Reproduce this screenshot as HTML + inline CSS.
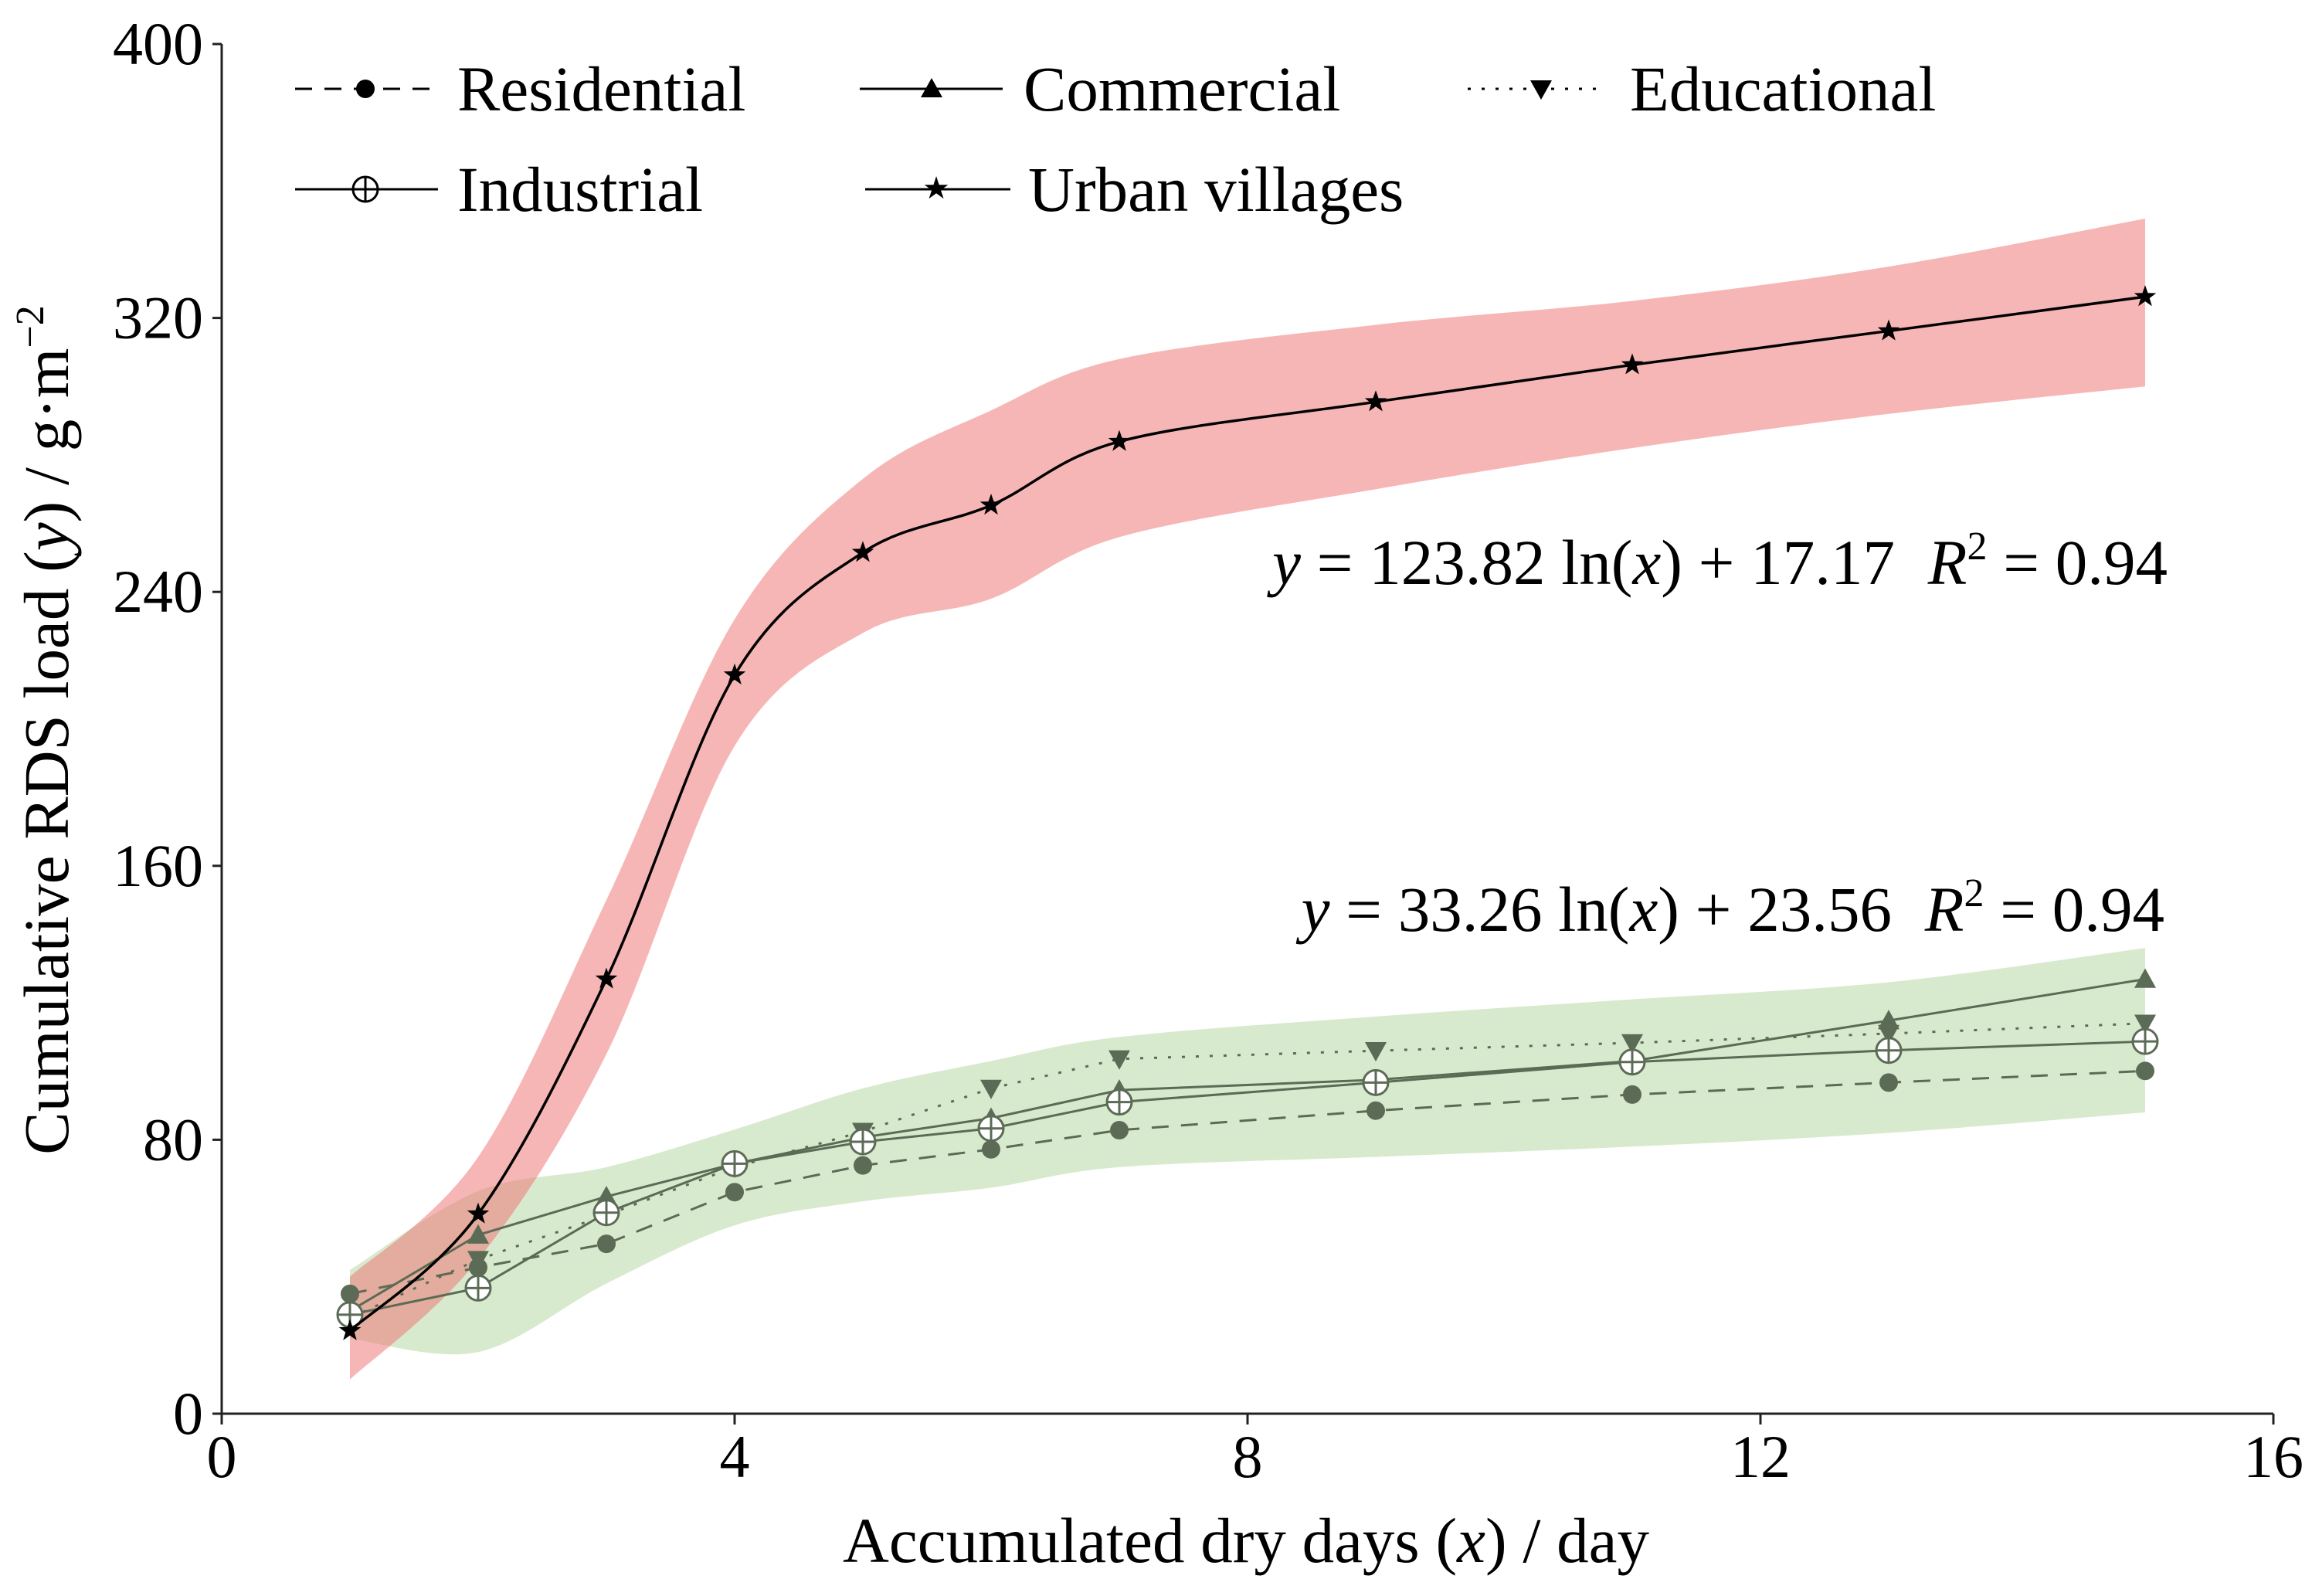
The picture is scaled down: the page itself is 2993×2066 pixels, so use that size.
<!DOCTYPE html>
<html><head><meta charset="utf-8"><style>
html,body{margin:0;padding:0;background:#fff}
svg{display:block;font-family:"Liberation Serif",serif}
</style></head><body>
<svg id="chart" width="2993" height="2066" viewBox="0 0 2993 2066" xmlns="http://www.w3.org/2000/svg"></svg>
<script>
const xDays = [1,2,3,4,5,6,7,9,11,13,15];
const urbanVillages = [24.2,58.3,126.9,215.7,251.5,265.3,283.9,295.5,306.3,316.2,326.2];
const residential = [35,42.7,49.6,64.7,72.5,77.2,82.8,88.5,93.2,96.7,100.1];
const commercial = [30,52.2,63.4,73,80.7,86.3,94.5,97.5,103,114.8,126.9];
const educational = [28,45,58,72,82.4,95,103.6,106,108.3,111,114];
const industrial = [28.9,36.7,58.7,73,79.4,83.3,91,96.7,102.7,106.1,108.7];
const redUpper = [40,75,150,232,273,293,308,318,325,335,349];
const redLower = [10,45,105,195,228,238,256,270,282,292,300];
const greenUpper = [42,65,72,83,95,103,110,116,121,126,136];
const greenLower = [22,18,38,55,62,66,72,75,78,82,88];
const xTicks = [0,4,8,12,16];
const yTicks = [0,80,160,240,320,400];

const NS="http://www.w3.org/2000/svg";
const svg=document.getElementById('chart');
const X0=287,X1=2943,Y0=1830,Y1=57;
const sx=v=>X0+(v-0)/(16-0)*(X1-X0);
const sy=v=>Y0-(v-0)/(400-0)*(Y0-Y1);
function mk(tag,attrs,parent){const e=document.createElementNS(NS,tag);for(const k in attrs)e.setAttribute(k,attrs[k]);(parent||svg).appendChild(e);return e;}
function smooth(pts){let d=`M${pts[0][0]},${pts[0][1]}`;for(let i=0;i<pts.length-1;i++){const p0=pts[i-1]||pts[i],p1=pts[i],p2=pts[i+1],p3=pts[i+2]||p2;const c1=[p1[0]+(p2[0]-p0[0])/6,p1[1]+(p2[1]-p0[1])/6],c2=[p2[0]-(p3[0]-p1[0])/6,p2[1]-(p3[1]-p1[1])/6];d+=` C${c1[0]},${c1[1]} ${c2[0]},${c2[1]} ${p2[0]},${p2[1]}`;}return d;}
function band(up,lo,fill,name){
  const u=xDays.map((x,i)=>[sx(x),sy(up[i])]);const l=xDays.map((x,i)=>[sx(x),sy(lo[i])]).reverse();
  let d=smooth(u)+' L'+l[0][0]+','+l[0][1]+smooth(l).slice(1).replace(/^[^C]*/,' ')+' Z';
  const e=mk('path',{d:d,fill:fill,stroke:'none'});
  
  
}
band(greenUpper,greenLower,'#d8eace','green-confidence-band');
band(redUpper,redLower,'rgba(240,110,110,0.5)','red-confidence-band');

const G='#5b6b55';
function marker(type,x,y,col,parent){
  const s=14;
  if(type==='circle')return mk('circle',{cx:x,cy:y,r:12,fill:col},parent);
  if(type==='up')return mk('path',{d:`M${x},${y-s} L${x+s},${y+s*0.8} L${x-s},${y+s*0.8} Z`,fill:col},parent);
  if(type==='down')return mk('path',{d:`M${x},${y+s} L${x+s},${y-s*0.8} L${x-s},${y-s*0.8} Z`,fill:col},parent);
  if(type==='oplus'){const g=mk('g',{},parent);mk('circle',{cx:x,cy:y,r:16,fill:'#fff',stroke:col,'stroke-width':3},g);mk('path',{d:`M${x-16},${y} H${x+16} M${x},${y-16} V${y+16}`,stroke:col,'stroke-width':3},g);return g;}
  if(type==='star'){let d='';for(let i=0;i<10;i++){const r=i%2?6:15,a=-Math.PI/2+i*Math.PI/5;d+=(i?'L':'M')+(x+r*Math.cos(a))+','+(y+r*Math.sin(a));}return mk('path',{d:d+'Z',fill:col},parent);}
}
function series(vals,name,dash,type,col,w,curved){
  const g=mk('g',{});
  
  
  const pts=xDays.map((x,i)=>[sx(x),sy(vals[i])]);
  const d=curved?smooth(pts):'M'+pts.map(p=>p.join(',')).join(' L');
  mk('path',{d:d,fill:'none',stroke:col,'stroke-width':w,'stroke-dasharray':dash},g);
  pts.forEach(p=>{const m=marker(type,p[0],p[1],col,g);
    
    });
}
series(residential,'residential','22,16','circle',G,3);
series(educational,'educational','4,14','down',G,3);
series(commercial,'commercial','','up',G,3);
series(industrial,'industrial','','oplus',G,3);
series(urbanVillages,'urban-villages','','star','#000',3.5,true);

const ax=mk('g',{});


mk('path',{d:`M${X0},${Y1} V${Y0} H${X1}`,fill:'none',stroke:'#222','stroke-width':3},ax);
yTicks.forEach(t=>{mk('path',{d:`M${X0-12},${sy(t)} H${X0}`,stroke:'#222','stroke-width':3},ax);
  const e=mk('text',{x:263,y:sy(t)+26,'text-anchor':'end','font-size':78},ax);e.textContent=t;
  
  });
xTicks.forEach(t=>{mk('path',{d:`M${sx(t)},${Y0} V${Y0+14}`,stroke:'#222','stroke-width':3},ax);
  const e=mk('text',{x:sx(t),y:1912,'text-anchor':'middle','font-size':78},ax);e.textContent=t;
  
  });
</script>
<svg style="position:absolute;left:0;top:0" width="2993" height="2066" font-family="Liberation Serif, serif">
<text x="1613" y="2022" text-anchor="middle" font-size="83">Accumulated dry days (<tspan font-style="italic">x</tspan>) / day</text>
<text transform="translate(88,945) rotate(-90)" text-anchor="middle" font-size="83">Cumulative RDS load (<tspan font-style="italic">y</tspan>) / g·m<tspan font-size="52" dy="-32">−2</tspan></text>
<text x="2806" y="756" text-anchor="end" font-size="83"><tspan font-style="italic">y</tspan> = 123.82 ln(<tspan font-style="italic">x</tspan>) + 17.17  <tspan font-style="italic" dx="22">R</tspan><tspan font-size="52" dy="-32">2</tspan><tspan dy="32"> = 0.94</tspan></text>
<text x="2802" y="1205" text-anchor="end" font-size="83"><tspan font-style="italic">y</tspan> = 33.26 ln(<tspan font-style="italic">x</tspan>) + 23.56  <tspan font-style="italic" dx="22">R</tspan><tspan font-size="52" dy="-32">2</tspan><tspan dy="32"> = 0.94</tspan></text>
<g font-size="83">
 <g>
  <line x1="382" y1="115" x2="560" y2="115" stroke="#000" stroke-width="3" stroke-dasharray="22,16"/>
  <circle cx="473" cy="115" r="12"/>
  <text x="592" y="143">Residential</text></g>
 <g>
  <line x1="1113" y1="115" x2="1298" y2="115" stroke="#000" stroke-width="3"/>
  <path d="M1206,101 L1220,126 L1192,126 Z"/>
  <text x="1325" y="143">Commercial</text></g>
 <g>
  <line x1="1900" y1="115" x2="2075" y2="115" stroke="#000" stroke-width="3" stroke-dasharray="4,14"/>
  <path d="M1995,129 L2009,104 L1981,104 Z"/>
  <text x="2110" y="143">Educational</text></g>
 <g>
  <line x1="382" y1="245" x2="567" y2="245" stroke="#000" stroke-width="3"/>
  <circle cx="473" cy="245" r="16" fill="#fff" stroke="#000" stroke-width="3"/>
  <path d="M457,245 H489 M473,229 V261" stroke="#000" stroke-width="3"/>
  <text x="592" y="273">Industrial</text></g>
 <g>
  <line x1="1120" y1="245" x2="1308" y2="245" stroke="#000" stroke-width="3"/>
  <text x="1212" y="257" text-anchor="middle" font-size="40">★</text>
  <text x="1331" y="273">Urban villages</text></g>
</g>
</svg>
</body></html>
